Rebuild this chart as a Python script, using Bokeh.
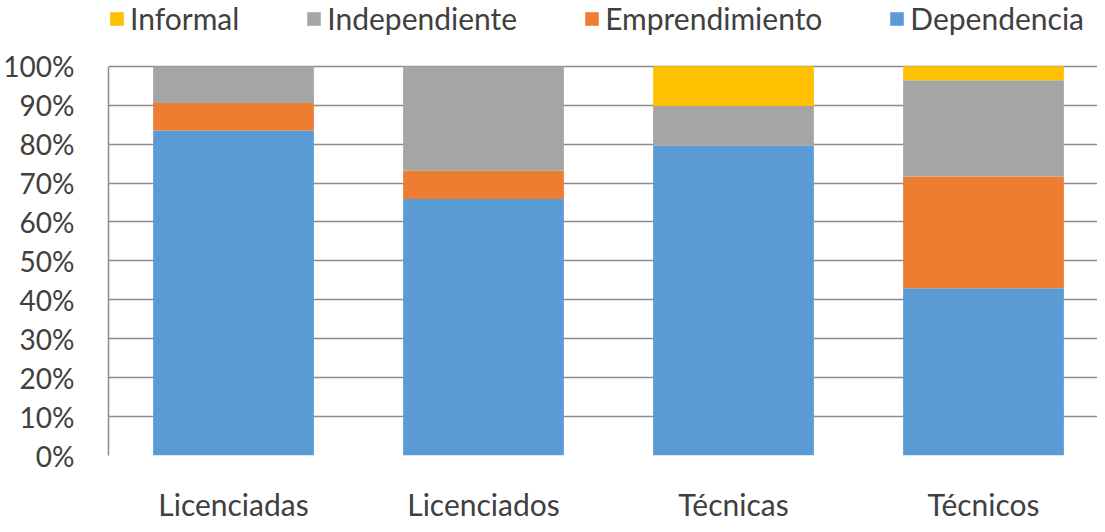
from bokeh.plotting import figure
from bokeh.models import (Range1d, FixedTicker, NumeralTickFormatter, Legend, LegendItem,
                          ColumnDataSource)
from bokeh.embed import file_html
from bokeh.resources import INLINE

categories = ["Licenciadas", "Licenciados", "Técnicas", "Técnicos"]
dependencia = [0.835, 0.659, 0.796, 0.430]
emprendimiento = [0.071, 0.073, 0.000, 0.287]
independiente = [0.094, 0.268, 0.102, 0.247]
informal = [0.000, 0.000, 0.102, 0.036]

series = ["Dependencia", "Emprendimiento", "Independiente", "Informal"]
colors = ["#5B9BD5", "#ED7D31", "#A5A5A5", "#FFC000"]
y_ticks = [0.0, 0.1, 0.2, 0.3, 0.4, 0.5, 0.6, 0.7, 0.8, 0.9, 1.0]

FONT = "Lato"
TEXT = "#404040"
GRID = "#8c8c8c"

xpos = [i + 0.5 for i in range(len(categories))]
src = ColumnDataSource(dict(x=xpos, Dependencia=dependencia, Emprendimiento=emprendimiento,
                            Independiente=independiente, Informal=informal))

# frame spans the legend strip too; 100% sits 68px below the frame top
p = figure(width=1097, height=524, output_backend="svg", toolbar_location=None,
           x_range=Range1d(0, 3.956), y_range=Range1d(0, 470 / 402),
           min_border_left=100, min_border_right=0, min_border_top=0, min_border_bottom=54)
p.outline_line_color = None
p.background_fill_color = "white"

renderers = p.vbar_stack(series, x="x", width=0.643, color=colors, line_color=None, source=src)

p.xgrid.visible = False
p.ygrid.ticker = FixedTicker(ticks=y_ticks)
p.ygrid.grid_line_color = GRID
p.ygrid.grid_line_width = 1.5
p.ygrid.level = "underlay"

p.yaxis.ticker = FixedTicker(ticks=y_ticks)
p.yaxis.bounds = (0, 1)
p.yaxis.formatter = NumeralTickFormatter(format="0%")
p.yaxis.axis_line_color = GRID
p.yaxis.axis_line_width = 1.5
p.yaxis.major_tick_line_color = None
p.yaxis.minor_tick_line_color = None
p.yaxis.major_label_standoff = 28
p.yaxis.major_label_text_font = FONT
p.yaxis.major_label_text_font_size = "28px"
p.yaxis.major_label_text_color = TEXT

p.xaxis.ticker = FixedTicker(ticks=xpos)
p.xaxis.major_label_overrides = {x: c for x, c in zip(xpos, categories)}
p.xaxis.axis_line_color = None
p.xaxis.major_tick_line_color = None
p.xaxis.minor_tick_line_color = None
p.xaxis.major_label_standoff = 24
p.xaxis.major_label_text_font = FONT
p.xaxis.major_label_text_font_size = "30px"
p.xaxis.major_label_text_color = TEXT

order = [3, 2, 1, 0]
legend = Legend(items=[LegendItem(label=series[i], renderers=[renderers[i]]) for i in order],
                orientation="horizontal", location="top_left",
                glyph_width=17, glyph_height=17, label_standoff=5, spacing=66,
                padding=0, margin=0, border_line_color=None, background_fill_alpha=0,
                label_text_font=FONT, label_text_font_size="30px", label_text_color=TEXT)
p.add_layout(legend, "center")

open("out.html", "w").write(file_html(p, INLINE))
